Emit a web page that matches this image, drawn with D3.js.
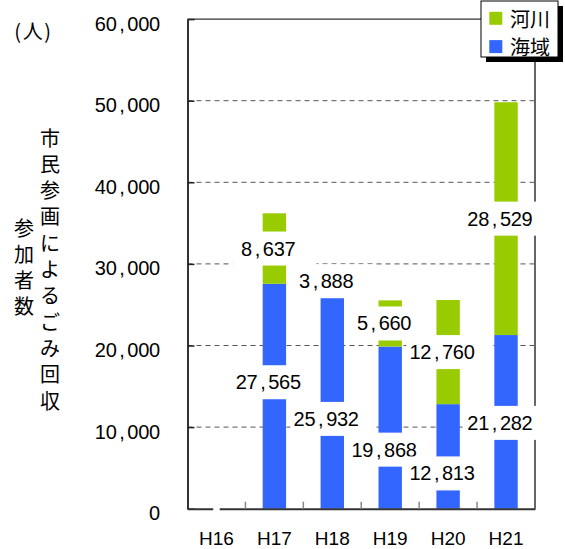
<!DOCTYPE html>
<html><head><meta charset="utf-8">
<script src="https://cdn.jsdelivr.net/npm/d3@7"></script>
<style>body{margin:0;background:#fff} svg{display:block}</style>
</head><body><svg id="chart" width="565" height="549"></svg>
<script>
// Participants in citizen-led litter pickups, by year and location
const years = ["H16", "H17", "H18", "H19", "H20", "H21"];
const kaiiki = [null, 27565, 25932, 19868, 12813, 21282]; // 海域
const kasen  = [null, 8637, 3888, 5660, 12760, 28529];    // 河川
const yTicks = [0, 10000, 20000, 30000, 40000, 50000, 60000];
const seriesNames = ["海域", "河川"];
const legendNames = ["河川", "海域"];
const yUnit = ["(", "人", ")"];
const titleCols = ["参加者数", "市民参画によるごみ回収"];

// layout and style
const plot = {left: 187.5, right: 535, top: 19.1, bottom: 508.7};
const colors = {"海域": "#3366FF", "河川": "#99CC00"};
const numFont = "'Liberation Sans', Arial, sans-serif";
const jpFont = "'Noto Sans CJK JP', sans-serif";
const cell = 10.85;                      // half-width character cell
const kaiikiLabelNudge = [0, -14, 16, 22, 17, 1];

const svg = d3.select("#chart");
const y = d3.scaleLinear().domain([0, 60000]).range([plot.bottom, plot.top]);
const x = d3.scaleBand().domain(years).range([plot.left, plot.right])
  .paddingInner(0.596).paddingOuter(0.298);
const fmt = d3.format(",");

const table = years.map((yr, i) => ({
  year: yr, "海域": kaiiki[i] ?? 0, "河川": kasen[i] ?? 0,
  raw: {"海域": kaiiki[i], "河川": kasen[i]}
}));
const stacked = d3.stack().keys(seriesNames)(table);

// lay characters out in fixed-width cells
function monoChars(sel, str, xLeft, cw) {
  sel.text(null).attr("text-anchor", "middle");
  [...str].forEach((ch, i) => sel.append("tspan").attr("x", xLeft + (i + 0.5) * cw).text(ch));
}

// dashed gridlines
svg.append("g").selectAll("line")
  .data(yTicks.filter(t => t > 0 && t < 60000)).join("line")
  .attr("x1", plot.left).attr("x2", plot.right)
  .attr("y1", d => y(d)).attr("y2", d => y(d))
  .attr("stroke", "#555").attr("stroke-width", 1).attr("stroke-dasharray", "5,4");

// stacked bars
svg.append("g").selectAll("g").data(stacked).join("g")
  .attr("fill", s => colors[s.key])
  .selectAll("rect").data(s => s.filter(p => p.data.raw[s.key] != null)).join("rect")
  .attr("x", p => x(p.data.year)).attr("width", x.bandwidth())
  .attr("y", p => y(p[1])).attr("height", p => y(p[0]) - y(p[1]));

// plot frame: top and right edges
svg.append("line").attr("x1", plot.left).attr("x2", plot.right)
  .attr("y1", y(60000)).attr("y2", y(60000)).attr("stroke", "#000").attr("stroke-width", 1);
svg.append("line").attr("x1", plot.right).attr("x2", plot.right)
  .attr("y1", y(60000)).attr("y2", plot.bottom).attr("stroke", "#666").attr("stroke-width", 2);

// y axis
const yAxis = svg.append("g").attr("transform", `translate(${plot.left},0)`)
  .call(d3.axisLeft(y).tickValues(yTicks).tickSize(-7).tickSizeOuter(0).tickFormat(fmt));
yAxis.select(".domain").attr("stroke", "#333").attr("stroke-width", 2);
yAxis.selectAll(".tick line").attr("stroke", "#222").attr("stroke-width", 1.5);
yAxis.selectAll(".tick text").each(function (d) {
  const s = fmt(d);
  const t = d3.select(this).attr("dy", null).attr("y", 11)
    .attr("font-family", numFont).attr("font-size", 20).attr("fill", "#000");
  monoChars(t, s, -27.5 - s.length * cell, cell);
});

// x axis
const xAxis = svg.append("g").attr("transform", `translate(0,${plot.bottom})`)
  .call(d3.axisBottom(x).tickSize(0).tickSizeOuter(0));
xAxis.select(".domain").attr("stroke", "#333").attr("stroke-width", 2);
xAxis.selectAll(".tick text")
  .attr("dy", null).attr("y", 36.5)
  .attr("font-family", numFont).attr("font-size", 19).attr("fill", "#000");
// category separators
const gap = (x.step() - x.bandwidth()) / 2;
svg.append("g").selectAll("line").data(years.slice(1)).join("line")
  .attr("x1", d => x(d) - gap).attr("x2", d => x(d) - gap)
  .attr("y1", plot.bottom - 7).attr("y2", plot.bottom)
  .attr("stroke", "#888").attr("stroke-width", 1.5);

// unit and vertical axis title
const unit = svg.append("text").attr("y", 30).attr("dominant-baseline", "central")
  .attr("font-family", jpFont).attr("font-size", 20).attr("fill", "#000").attr("text-anchor", "middle");
[17.7, 32.7, 47.7].forEach((px, i) => unit.append("tspan").attr("x", px).text(yUnit[i]));

const colX = [24, 50], colMid = [266, 268], pitch = 26.3;
titleCols.forEach((str, c) => {
  const chars = [...str];
  const t = svg.append("text").attr("font-family", jpFont).attr("font-size", 20)
    .attr("fill", "#000").attr("text-anchor", "middle").attr("dominant-baseline", "central");
  chars.forEach((ch, i) => t.append("tspan").attr("x", colX[c])
    .attr("y", colMid[c] + (i - (chars.length - 1) / 2) * pitch).text(ch));
});

// legend
const lg = svg.append("g");
lg.append("rect").attr("x", 486).attr("y", 6).attr("width", 77).attr("height", 56).attr("fill", "#000");
lg.append("rect").attr("x", 481).attr("y", 1).attr("width", 77).attr("height", 56)
  .attr("fill", "#fff").attr("stroke", "#000").attr("stroke-width", 1);
legendNames.forEach((name, i) => {
  const cy = 18.3 + i * 28.3;
  lg.append("rect").attr("x", 489.3).attr("y", cy - 6.5).attr("width", 13).attr("height", 13).attr("fill", colors[name]);
  lg.append("text").attr("x", 510).attr("y", cy).attr("dominant-baseline", "central")
    .attr("font-family", jpFont).attr("font-size", 20).attr("fill", "#000").text(name);
});

// value labels on white boxes
const boxW = 84, boxH = 34;
const labels = svg.append("g");
stacked.forEach(s => {
  s.forEach((p, i) => {
    const v = p.data.raw[s.key];
    const cx = x(p.data.year) + x.bandwidth() / 2;
    if (v == null) {
      labels.append("rect").attr("x", cx - 3).attr("y", plot.bottom - boxH / 2)
        .attr("width", 6).attr("height", boxH).attr("fill", "#fff");
      return;
    }
    const cy = y((p[0] + p[1]) / 2) + (s.key === "海域" ? kaiikiLabelNudge[i] : 0);
    labels.append("rect").attr("x", cx - boxW / 2).attr("y", cy - boxH / 2)
      .attr("width", boxW).attr("height", boxH).attr("fill", "#fff");
    const str = fmt(v);
    const t = labels.append("text").attr("y", cy + 7)
      .attr("font-family", numFont).attr("font-size", 20).attr("fill", "#000");
    monoChars(t, str, cx - 6 - str.length * cell / 2, cell);
  });
});
</script>
</body></html>
